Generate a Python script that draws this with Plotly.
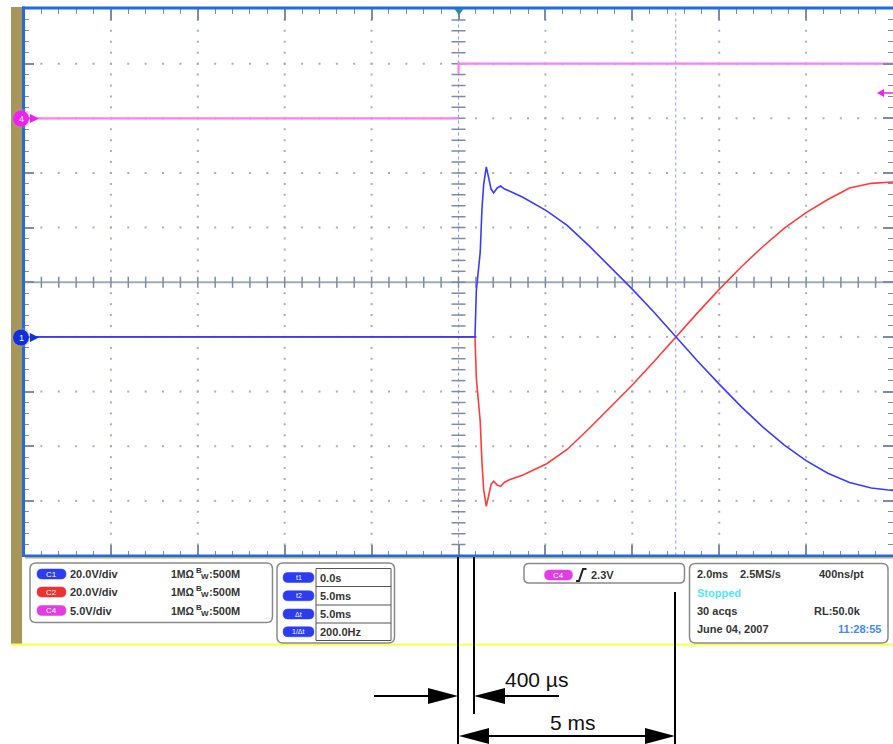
import numpy as np
import plotly.graph_objects as go

W, H = 893, 744

# ---------------- data (time in ms, values in volts) ----------------
t_c1 = [-10.0, 0.38, 0.41, 0.46, 0.50, 0.54, 0.58, 0.64, 0.70, 0.75, 0.81, 0.89, 0.97,
        1.06, 1.17, 1.47, 2.03, 2.5, 3.0, 3.5, 4.0, 4.5, 5.0, 5.5, 6.0, 6.5, 7.0, 7.5,
        8.0, 8.5, 9.0, 9.5, 10.0]
v_c1 = [0, 0, 16.8, 25.6, 31.1, 46.8, 55.9, 62.2, 57.8, 54.1, 52.7, 54.5, 55.2,
        54.1, 53.4, 51.2, 46.1, 40.8, 33.4, 25.6, 17.5, 9.0, 0.0, -8.8, -17.3, -25.4,
        -32.9, -39.6, -45.3, -49.9, -53.3, -55.3, -56.2]

t_c2 = [-10.0, 0.38, 0.41, 0.46, 0.50, 0.54, 0.58, 0.64, 0.70, 0.75, 0.81, 0.89, 0.97,
        1.06, 1.17, 1.47, 2.03, 2.5, 3.0, 3.5, 4.0, 4.5, 5.0, 5.5, 6.0, 6.5, 7.0, 7.5,
        8.0, 8.5, 9.0, 9.5, 10.0]
v_c2 = [0, 0, -15.0, -25.0, -31.0, -46.0, -56.0, -62.0, -57.5, -54.0, -52.8, -54.2, -54.7,
        -53.2, -52.3, -50.6, -46.4, -41.2, -33.6, -25.6, -17.6, -9.0, 0.0, 8.8, 17.4, 25.5,
        33.0, 39.8, 45.5, 50.3, 54.5, 56.2, 56.7]

t_c4 = [-10.0, 0.0, None, 0.0, 0.0, 10.0]
v_c4 = [0.0, 0.0, None, 4.1, 5.0, 5.0]

ch_names = ["C1", "C2", "C4"]
ch_vdiv = ["20.0V/div", "20.0V/div", "5.0V/div"]
ch_scale = [20.0, 20.0, 5.0]
ch_offset = [-1.0, -1.0, 3.0]
ch_imp = ["1MΩ", "1MΩ", "1MΩ"]
ch_bw = ["500M", "500M", "500M"]

cur_names = ["t1", "t2", "Δt", "1/Δt"]
cur_vals = ["0.0s", "5.0ms", "5.0ms", "200.0Hz"]
cursor_times = [0.0, 5.0]

trig_label = "2.3V"
timebase = ["2.0ms", "2.5MS/s", "400ns/pt"]
status = "Stopped"
acqs = ["30 acqs", "RL:50.0k"]
stamp = ["June 04, 2007", "11:28:55"]

dim_small = "400 µs"
dim_big = "5 ms"

# ---------------- colours ----------------
BLUE = "#3b3bff"
RED = "#ff3c3c"
PINK = "#ff7cff"
MAG = "#f020f0"
BORDER = "#1f6ae6"
TAN = "#a8955a"
TICK = "#7d8ca2"
DOT = "#a5afbd"
TXT = "#343434"
FONT = "Liberation Sans, Arial, sans-serif"


def px(x):
    return x / W


def py(y):
    return 1 - y / H


def todiv(vals, i):
    return [None if v is None else v / ch_scale[i] + ch_offset[i] for v in vals]


shapes = []
ann = []


def rect(x0, y0, x1, y1, fill, layer="above", line=None):
    d = dict(type="rect", xref="paper", yref="paper", x0=px(x0), x1=px(x1),
             y0=py(y1), y1=py(y0), fillcolor=fill, layer=layer,
             line=dict(width=0) if line is None else line)
    shapes.append(d)


def path(pts_str, fill=None, color="black", width=0, layer="above"):
    d = dict(type="path", xref="paper", yref="paper", path=pts_str, layer=layer,
             line=dict(color=color, width=width))
    if fill:
        d["fillcolor"] = fill
    shapes.append(d)


def P(x, y):
    return f"{px(x):.5f},{py(y):.5f}"


def poly(pts, fill, color=None, width=0):
    s = "M " + " L ".join(P(x, y) for x, y in pts) + " Z"
    path(s, fill=fill, color=color or fill, width=width)


def rrect_path(x0, y0, x1, y1, r):
    return (f"M {P(x0 + r, y0)} L {P(x1 - r, y0)} Q {P(x1, y0)} {P(x1, y0 + r)} "
            f"L {P(x1, y1 - r)} Q {P(x1, y1)} {P(x1 - r, y1)} L {P(x0 + r, y1)} "
            f"Q {P(x0, y1)} {P(x0, y1 - r)} L {P(x0, y0 + r)} Q {P(x0, y0)} {P(x0 + r, y0)} Z")


def rrect(x0, y0, x1, y1, r, fill, color, width):
    path(rrect_path(x0, y0, x1, y1, r), fill=fill, color=color, width=width)


def line(x0, y0, x1, y1, color="black", width=2, dash=None):
    d = dict(type="line", xref="paper", yref="paper", x0=px(x0), x1=px(x1),
             y0=py(y0), y1=py(y1), line=dict(color=color, width=width), layer="above")
    if dash:
        d["line"]["dash"] = dash
    shapes.append(d)


def text(x, y, s, size=11, color=TXT, bold=True, anchor="left"):
    ann.append(dict(x=px(x), y=py(y), xref="paper", yref="paper", text=s,
                    showarrow=False, xanchor=anchor, yanchor="middle",
                    font=dict(family=FONT, size=size, color=color,
                              weight="bold" if bold else "normal"),
                    borderpad=0))


def pill(x0, x1, yc, h, fill, label, tsize=8):
    rrect(x0, yc - h / 2, x1, yc + h / 2, h / 2, fill, fill, 0.5)
    text((x0 + x1) / 2, yc, label, size=tsize, color="white", bold=False, anchor="center")


# ---------------- frame decorations ----------------
rect(11, 7, 22, 644, TAN, layer="below")
rect(11, 643.5, 893, 645.5, "#ffff40", layer="below")
rect(22, 6.5, 893, 9.5, BORDER)
rect(22, 6.5, 25, 557, BORDER)
rect(22, 554.5, 893, 557, BORDER)
rect(25, 557, 893, 558.5, "#b9a978", layer="below")

# trigger position marker on top
poly([(454.5, 9), (463.5, 9), (459, 15)], "#2b8c9c")

# channel markers on the left
for yc, col, lab in [(118.5, MAG, "4"), (337.5, "#1030e0", "1")]:
    shapes.append(dict(type="circle", xref="paper", yref="paper", x0=px(11), x1=px(31),
                       y0=py(yc + 10), y1=py(yc - 10),
                       fillcolor="rgba(160,160,170,0.35)", line=dict(width=0), layer="above"))
    shapes.append(dict(type="circle", xref="paper", yref="paper", x0=px(13), x1=px(29),
                       y0=py(yc + 8), y1=py(yc - 8), fillcolor=col, line=dict(width=0),
                       layer="above"))
    text(21, yc, lab, size=9, color="white", bold=False, anchor="center")
    poly([(30, yc - 4.5), (39, yc), (30, yc + 4.5)], col)

# trigger level arrow at right
poly([(877, 93), (884, 89), (884, 97)], MAG)
line(883, 93, 893, 93, MAG, 1.5)

# ---------------- info panel ----------------
rrect(30, 563, 272.5, 622.5, 6, "white", "#8a8a8a", 1.5)
row_y = [574, 592, 610.5]
pill_cols = ["#2b3cf2", "#ee3030", "#e23ce2"]
for i in range(3):
    pill(37, 66, row_y[i], 10, pill_cols[i], ch_names[i])
    text(69, row_y[i], ch_vdiv[i])
    text(170, row_y[i], ch_imp[i], size=10.5)
    text(194.5, row_y[i] - 3.5, "B", size=8)
    text(200, row_y[i] + 2.5, "W", size=8)
    text(207.5, row_y[i], ":" + ch_bw[i])

rrect(277, 563, 394.5, 643, 6, "white", "#8a8a8a", 1.5)
cell_y = [568.5, 586.5, 605, 623, 640.5]
rect(316, 568.5, 391, 640.5, "white", line=dict(color="#555555", width=1))
for k in range(1, 4):
    line(316, cell_y[k], 391, cell_y[k], "#555555", 1)
for k in range(4):
    yc = (cell_y[k] + cell_y[k + 1]) / 2
    pill(283, 314, yc, 10, "#2b3cf2", cur_names[k], tsize=7)
    text(319, yc, cur_vals[k])

rrect(524, 563.5, 684.5, 583, 5, "white", "#8a8a8a", 1.5)
pill(544.5, 572.5, 575, 10, "#e23ce2", "C4")
path(f"M {P(576, 581)} L {P(579, 581)} L {P(583, 569)} L {P(586.5, 569)}",
     color="#222222", width=2)
text(590, 575, trig_label)

rrect(689.5, 563.5, 888, 643, 6, "white", "#8a8a8a", 1.5)
text(696, 574, timebase[0])
text(739, 574, timebase[1])
text(865, 574, timebase[2], anchor="right")
text(696, 592.5, status, color="#4fe9f6")
text(696, 610.5, acqs[0])
text(862, 610.5, acqs[1], anchor="right")
text(696, 628.5, stamp[0])
text(882, 628.5, stamp[1], color="#3d8bff", anchor="right")

# ---------------- dimension annotations ----------------
line(458, 557, 458, 744)
line(474, 557, 474, 714)
line(675, 592, 675, 744)
line(374, 696, 432, 696)
poly([(428, 688), (458, 696), (428, 704)], "black")
line(500, 696, 559, 696)
poly([(505, 688), (474, 696), (505, 704)], "black")
line(485, 736, 650, 736)
poly([(489, 728), (459, 736), (489, 744)], "black")
poly([(645, 728), (675, 736), (645, 744)], "black")
text(504, 679.5, dim_small, size=21, color="#111111", bold=False)
text(549, 722.5, dim_big, size=21, color="#111111", bold=False)

# ---------------- main axes content ----------------
for tc in cursor_times:
    shapes.append(dict(type="line", xref="x", yref="y", x0=tc, x1=tc, y0=-5, y1=5,
                       line=dict(color="#8f8fff", width=1, dash="dot"), layer="below"))
shapes.append(dict(type="line", xref="x", yref="y", x0=-10, x1=10, y0=0, y1=0,
                   line=dict(color="#a0aab8", width=2), layer="below"))

fig = go.Figure()

gx, gy = [], []
for yl in [-4, -3, -2, -1, 1, 2, 3, 4]:
    for xv in np.round(np.arange(-9.6, 9.61, 0.4), 2):
        gx.append(float(xv)); gy.append(yl)
for xl in [-8, -6, -4, -2, 2, 4, 6, 8]:
    for yv in np.round(np.arange(-4.8, 4.81, 0.2), 2):
        gx.append(xl); gy.append(float(yv))
fig.add_trace(go.Scatter(x=gx, y=gy, mode="markers", hoverinfo="skip",
                         marker=dict(symbol="square", size=2, color=DOT, line=dict(width=0))))

cx = [float(v) for v in np.round(np.arange(-9.6, 9.61, 0.4), 2)]
fig.add_trace(go.Scatter(x=cx, y=[0] * len(cx), mode="markers", hoverinfo="skip",
                         marker=dict(symbol="line-ns-open", size=8, color=TICK,
                                     line=dict(width=1.5, color=TICK))))
cy = [float(v) for v in np.round(np.arange(-4.8, 4.81, 0.2), 2)]
fig.add_trace(go.Scatter(x=[0] * len(cy), y=cy, mode="markers", hoverinfo="skip",
                         marker=dict(symbol="line-ew-open", size=10, color=TICK,
                                     line=dict(width=1.5, color=TICK))))

fig.add_trace(go.Scatter(x=t_c4, y=todiv(v_c4, 2), mode="lines", name="C4",
                         line=dict(color=PINK, width=2.2), connectgaps=False))
fig.add_trace(go.Scatter(x=t_c2, y=todiv(v_c2, 1), mode="lines", name="C2",
                         line=dict(color=RED, width=1.6)))
fig.add_trace(go.Scatter(x=t_c1, y=todiv(v_c1, 0), mode="lines", name="C1",
                         line=dict(color=BLUE, width=1.6)))

fig.update_layout(
    width=W, height=H, margin=dict(l=0, r=0, t=0, b=0),
    paper_bgcolor="white", plot_bgcolor="white", showlegend=False,
    shapes=shapes, annotations=ann,
    xaxis=dict(domain=[px(24), 1.0], range=[-10, 10], showgrid=False, zeroline=False,
               showticklabels=False, ticks="inside", tickmode="linear", tick0=-10, dtick=2,
               ticklen=11, tickwidth=1.5, tickcolor=TICK, mirror="allticks", showline=False,
               minor=dict(ticks="inside", tickmode="linear", tick0=-10, dtick=0.4,
                          ticklen=5, tickwidth=1, tickcolor=TICK, showgrid=False),
               fixedrange=True),
    yaxis=dict(domain=[py(555.5), py(9)], range=[-5, 5], showgrid=False, zeroline=False,
               showticklabels=False, ticks="inside", tickmode="linear", tick0=-5, dtick=1,
               ticklen=10, tickwidth=1.5, tickcolor=TICK, mirror="allticks", showline=False,
               minor=dict(ticks="inside", tickmode="linear", tick0=-5, dtick=0.2,
                          ticklen=5, tickwidth=1, tickcolor=TICK, showgrid=False),
               fixedrange=True),
)

fig.write_html("out.html", config={"displayModeBar": False},
               post_script="document.body.style.margin='0';document.body.style.overflow='hidden';")
